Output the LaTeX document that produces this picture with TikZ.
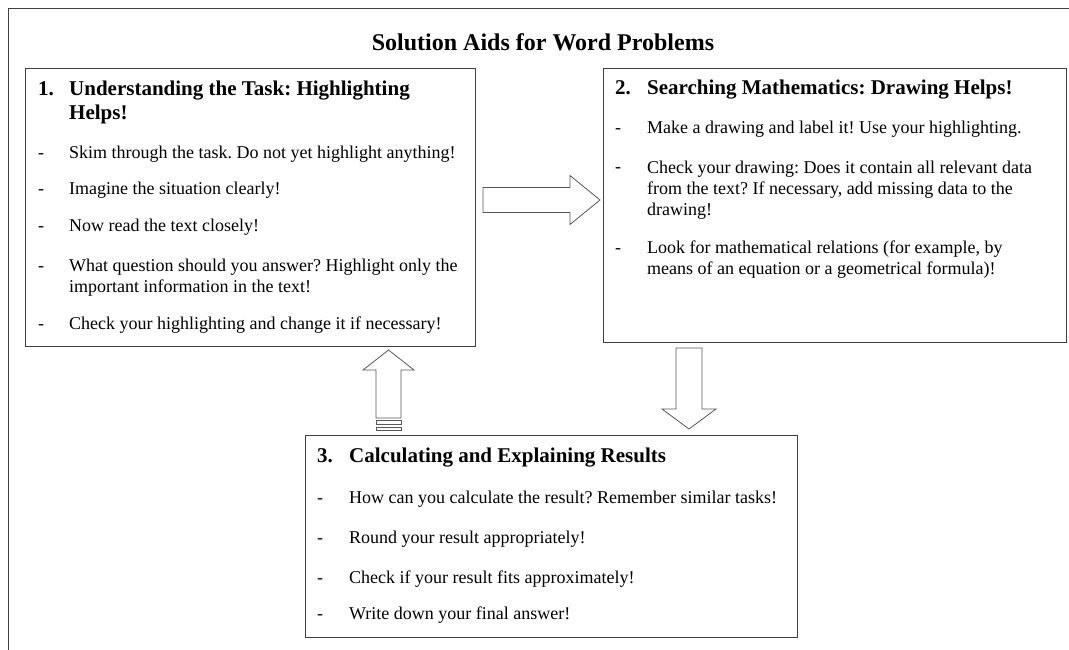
\documentclass[tikz,border=0pt]{standalone}
\usepackage{fontspec}
\setmainfont{Liberation Serif}
\frenchspacing
\begin{document}
\begin{tikzpicture}
    [
        x=1pt, y=-1pt,
        panel/.style={rectangle, draw=black!75, line width=0.9pt, anchor=north west, inner sep=0pt},
        heading/.style={anchor=base west, inner sep=0pt, align=left, font=\bfseries\fontsize{21}{23.5}\selectfont},
        item/.style={anchor=base west, inner sep=0pt, align=left, font=\fontsize{18}{21}\selectfont},
        blockarrow/.style={draw=black!65, line width=0.8pt, fill=white},
    ]
    \useasboundingbox (0,0) rectangle (1069,650);
    \draw [black!75, line width=0.9pt] (1069,8) -- (8,8) -- (8,650);
    \node (title) at (543,51) [anchor=base, inner sep=0pt, font=\bfseries\fontsize{24}{28}\selectfont] {Solution Aids for Word Problems};

    % box 1 (multi-line nodes sit on their last line)
    \node (task) at (25,68) [panel, minimum width=450, minimum height=278] {};
    \node (n1) at (38,96) [heading] {1.};
    \node (h1) at (69,119.5) [heading] {Understanding the Task: Highlighting\\Helps!};
    \node (d11) at (38,159) [item] {-};
    \node (t11) at (69,159) [item] {Skim through the task. Do not yet highlight anything!};
    \node (d12) at (38,195) [item] {-};
    \node (t12) at (69,195) [item] {Imagine the situation clearly!};
    \node (d13) at (38,231) [item] {-};
    \node (t13) at (69,231) [item] {Now read the text closely!};
    \node (d14) at (38,271) [item] {-};
    \node (t14) at (69,292) [item] {What question should you answer? Highlight only the\\important information in the text!};
    \node (d15) at (38,329) [item] {-};
    \node (t15) at (69,329) [item] {Check your highlighting and change it if necessary!};

    % box 2
    \node (search) at (603,68) [panel, minimum width=463, minimum height=274] {};
    \node (n2) at (615,95) [heading] {2.};
    \node (h2) at (647,95) [heading] {Searching Mathematics: Drawing Helps!};
    \node (d21) at (615,134) [item] {-};
    \node (t21) at (647,134) [item] {Make a drawing and label it! Use your highlighting.};
    \node (d22) at (615,173) [item] {-};
    \node (t22) at (647,215) [item] {Check your drawing: Does it contain all relevant data\\from the text? If necessary, add missing data to the\\drawing!};
    \node (d23) at (615,253) [item] {-};
    \node (t23) at (647,274) [item] {Look for mathematical relations (for example, by\\means of an equation or a geometrical formula)!};

    % box 3
    \node (calc) at (305,435) [panel, minimum width=492, minimum height=202] {};
    \node (n3) at (317,462) [heading] {3.};
    \node (h3) at (349,462) [heading] {Calculating and Explaining Results};
    \node (d31) at (317,503) [item] {-};
    \node (t31) at (349,503) [item] {How can you calculate the result? Remember similar tasks!};
    \node (d32) at (317,543) [item] {-};
    \node (t32) at (349,543) [item] {Round your result appropriately!};
    \node (d33) at (317,583) [item] {-};
    \node (t33) at (349,583) [item] {Check if your result fits approximately!};
    \node (d34) at (317,619) [item] {-};
    \node (t34) at (349,619) [item] {Write down your final answer!};

    % block arrows
    \draw [blockarrow] (483,187.5) -- (570,187.5) -- (570,175.5) -- (600,200) -- (570,224.5) -- (570,212.5) -- (483,212.5) -- cycle;
    \draw [blockarrow] (676,348) -- (702,348) -- (702,409) -- (716,409) -- (689,429) -- (662,409) -- (676,409) -- cycle;
    \draw [blockarrow] (376,418) -- (376,370) -- (363,370) -- (388.5,350) -- (414,370) -- (401,370) -- (401,418) -- cycle;
    \draw [blockarrow] (376,420.5) rectangle (401,424.5);
    \draw [blockarrow] (376,427) rectangle (401,430);
\end{tikzpicture}
\end{document}
